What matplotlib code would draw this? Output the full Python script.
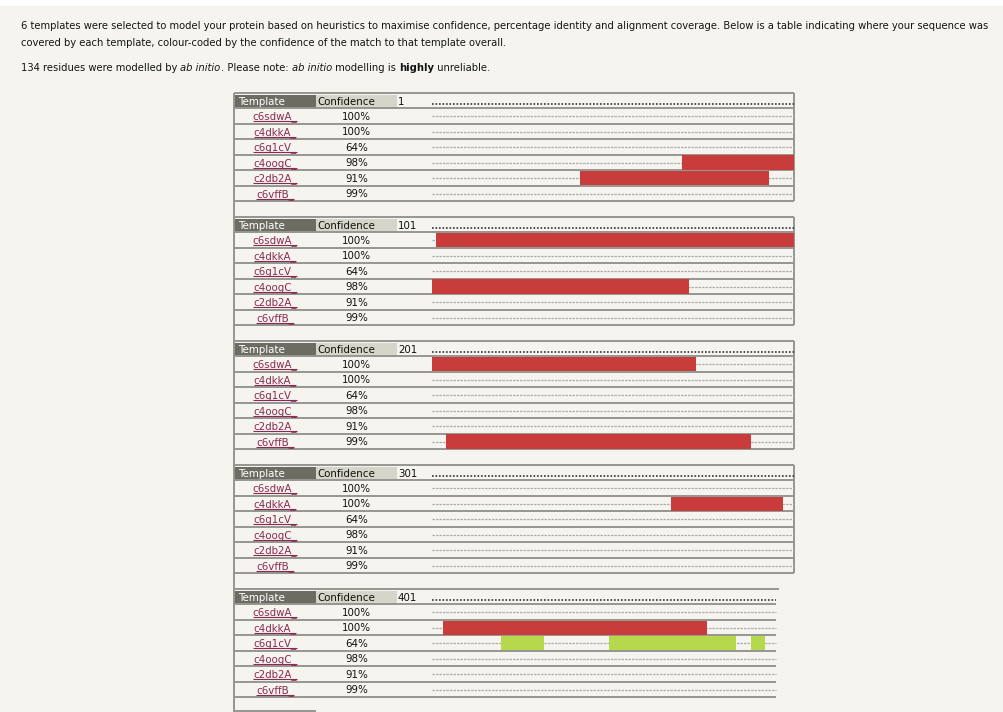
import matplotlib
matplotlib.use("Agg")
import matplotlib.pyplot as plt
from matplotlib.patches import Rectangle

# ---- data -------------------------------------------------------------
SEQ_LEN = 495
BLOCK = 100

templates = ["c6sdwA_", "c4dkkA_", "c6g1cV_", "c4oogC_", "c2db2A_", "c6vffB_"]
confidence = [100, 100, 64, 98, 91, 99]

# aligned residue ranges (first, last) per template
cov_c6sdwA = [(102, 273)]
cov_c4dkkA = [(367, 397), (404, 476)]
cov_c6g1cV = [(420, 431), (450, 484), (489, 492)]
cov_c4oogC = [(70, 171)]
cov_c2db2A = [(42, 93)]
cov_c6vffB = [(205, 288)]
coverage = [cov_c6sdwA, cov_c4dkkA, cov_c6g1cV, cov_c4oogC, cov_c2db2A, cov_c6vffB]

intro_1 = ("6 templates were selected to model your protein based on heuristics to maximise "
           "confidence, percentage identity and alignment coverage. Below is a table indicating "
           "where your sequence was")
intro_2 = "covered by each template, colour-coded by the confidence of the match to that template overall."
n_ab_initio = 134

# ---- style ------------------------------------------------------------
W, H = 1004, 712
BG = "#f5f4ee"
LINE = "#959592"
RED = "#c83c3c"
GREEN = "#b5d84c"
LINK = "#8a2a52"
HEAD_DARK = "#6d6c63"
HEAD_LIGHT = "#d6d5c9"
FONT = "DejaVu Sans"

TABLE_L, CONF_L, NUM_L, TRACK_L, TRACK_R = 234, 316, 397, 432, 794
TOP0, ROW_H, STEP = 93, 15.47, 124
PX_PER_RES = (TRACK_R - TRACK_L) / BLOCK


def conf_color(c):
    return RED if c >= 90 else GREEN


fig = plt.figure(figsize=(W / 100, H / 100), dpi=100)
fig.patch.set_facecolor(BG)
ax = fig.add_axes([0, 0, 1, 1])
ax.set_xlim(0, W)
ax.set_ylim(H, 0)
ax.axis("off")
ax.add_patch(Rectangle((0, 0), W, 6, color="white", lw=0))

renderer = fig.canvas.get_renderer()
inv = ax.transData.inverted()


def text_run(x, y, parts, size=7.3):
    """Draw consecutive text pieces with their own style on one line."""
    for s, style, weight in parts:
        t = ax.text(x, y, s, fontsize=size, family=FONT, style=style,
                    weight=weight, va="center", ha="left", color="#151515")
        bb = t.get_window_extent(renderer)
        x = inv.transform((bb.x1, bb.y0))[0]
    return x


text_run(21, 26, [(intro_1, "normal", "normal")], size=7.2)
text_run(21, 43, [(intro_2, "normal", "normal")], size=7.2)
text_run(21, 68, [
    (f"{n_ab_initio} residues were modelled by ", "normal", "normal"),
    ("ab initio", "italic", "normal"),
    (". Please note: ", "normal", "normal"),
    ("ab initio", "italic", "normal"),
    (" modelling is ", "normal", "normal"),
    ("highly", "normal", "bold"),
    (" unreliable.", "normal", "normal"),
], size=7.2)

n_blocks = -(-SEQ_LEN // BLOCK)
n_rows = len(templates)
name_texts = []

for k in range(n_blocks):
    top = TOP0 + STEP * k
    start = k * BLOCK
    stop = min(start + BLOCK, SEQ_LEN)
    last = k == n_blocks - 1
    right = TRACK_L + (stop - start) * PX_PER_RES if last else TRACK_R

    # header cells
    ax.add_patch(Rectangle((TABLE_L, top + 2), CONF_L - TABLE_L, ROW_H - 2,
                           color=HEAD_DARK, lw=0))
    ax.add_patch(Rectangle((CONF_L, top + 2), NUM_L - CONF_L, ROW_H - 2,
                           color=HEAD_LIGHT, lw=0))
    yc = top + ROW_H / 2 + 1
    ax.text(TABLE_L + 4, yc, "Template", color="white", fontsize=7.4,
            family=FONT, va="center")
    ax.text(CONF_L + 1, yc, "Confidence", color="#111111", fontsize=7.4,
            family=FONT, va="center")
    ax.text(NUM_L + 1, yc, str(start + 1), color="#111111", fontsize=7.4,
            family=FONT, va="center")

    # grid lines
    ax.hlines(top, TABLE_L, right + (3 if last else 0), color=LINE, lw=1.4)
    for r in range(1, n_rows + 2):
        ax.hlines(top + r * ROW_H, TABLE_L, right, color=LINE, lw=1.4)
    if not last:
        ax.vlines(TRACK_R, top, top + (n_rows + 1) * ROW_H, color=LINE, lw=1.4)

    # row labels
    for i, (name, c) in enumerate(zip(templates, confidence)):
        ry = top + (i + 1.5) * ROW_H + 0.5
        t = ax.text((TABLE_L + CONF_L) / 2, ry, name, color=LINK, fontsize=7.4,
                    family=FONT, ha="center", va="center")
        name_texts.append(t)
        ax.text((CONF_L + NUM_L) / 2, ry, f"{c}%", color="#111111",
                fontsize=7.4, family=FONT, ha="center", va="center")

    # coverage track for this block, in residue units
    bax = fig.add_axes([TRACK_L / W, 1 - (top + (n_rows + 1) * ROW_H) / H,
                        (TRACK_R - TRACK_L) / W, (n_rows + 1) * ROW_H / H])
    bax.set_xlim(start, start + BLOCK)
    bax.set_ylim(n_rows, -1)
    bax.axis("off")
    bax.hlines(-0.3, start, stop, color="#333333", lw=1.2,
               linestyles=(0, (1, 1.1)))
    for i, segs in enumerate(coverage):
        bax.hlines(i + 0.5, start, stop, color="#adadaa", lw=0.9,
                   linestyles=(0, (2, 0.8)))
        for a, b in segs:
            lo, hi = max(a - 1, start), min(b, stop)
            if hi > lo:
                bax.barh(i + 0.5, hi - lo, left=lo, height=0.92,
                         color=conf_color(confidence[i]), lw=0, zorder=3)

# outer left border and bottom stub
ax.vlines(TABLE_L, TOP0, H, color=LINE, lw=1.4)
ax.hlines(H - 1.5, TABLE_L, CONF_L, color=LINE, lw=1.4)

# underline the template links
for t in name_texts:
    bb = t.get_window_extent(renderer)
    (x0, yb), (x1, _) = inv.transform([(bb.x0, bb.y0), (bb.x1, bb.y1)])
    ax.hlines(yb - 0.8, x0, x1, color=LINK, lw=0.8)

fig.savefig("out.png", dpi=100, facecolor=fig.get_facecolor())
